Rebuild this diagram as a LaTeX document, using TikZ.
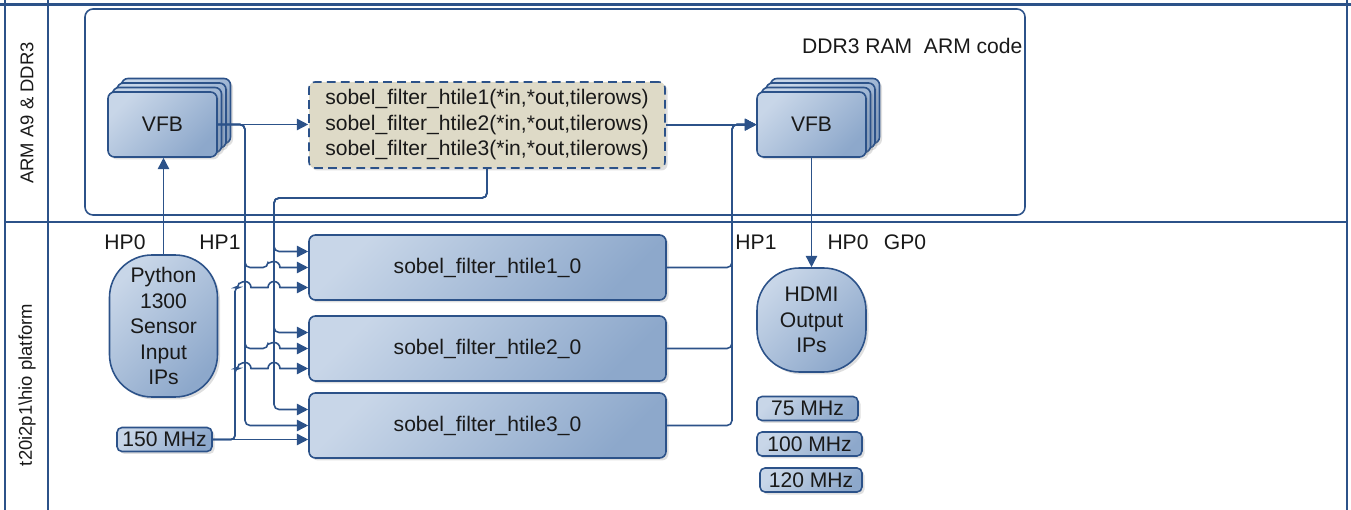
\documentclass[tikz,border=0pt]{standalone}
\usepackage{fontspec}
\setmainfont{Liberation Sans}
\usepackage{xcolor}
\usepackage{tikz}
\definecolor{laneblue}{RGB}{44, 82, 137}
\definecolor{boxlight}{RGB}{200, 214, 232}
\definecolor{boxdark}{RGB}{141, 168, 203}
\definecolor{codebeige}{RGB}{222, 218, 199}
\definecolor{textdark}{RGB}{25, 25, 25}
\usetikzlibrary{arrows.meta, positioning, shadows}

\begin{document}
\begin{tikzpicture}[
        every node/.style={font=\fontsize{12}{14.5}\selectfont, text=textdark},
        block/.style={rectangle, rounded corners=0.13cm, draw=laneblue, line width=0.9pt, top color=boxlight, bottom color=boxdark, shading angle=45, drop shadow={opacity=0.25, shadow xshift=0.05cm, shadow yshift=-0.05cm}, align=center},
        vfb/.style={block, minimum width=2.18cm, minimum height=1.3cm},
        tile/.style={block, minimum width=7.14cm, minimum height=1.3cm},
        ipblock/.style={block, rounded corners=0.85cm, minimum width=2.16cm, inner sep=1pt},
        clk/.style={block, rounded corners=0.1cm, minimum height=0.48cm, inner sep=0pt},
        funcs/.style={rectangle, rounded corners=0.12cm, draw=laneblue, line width=0.9pt, dash pattern=on 5pt off 3pt, fill=codebeige, drop shadow={opacity=0.25, shadow xshift=0.05cm, shadow yshift=-0.05cm}, align=left, minimum width=7.12cm, minimum height=1.72cm},
        region/.style={rectangle, rounded corners=0.16cm, draw=laneblue, line width=0.9pt},
        port/.style={inner sep=0pt},
        lanelabel/.style={inner sep=0pt, rotate=90, font=\fontsize{10.5}{12}\selectfont},
        conn/.style={draw=laneblue, line width=0.9pt, -{Triangle[length=6.5pt,width=6.5pt]}},
        lane/.style={draw=laneblue, line width=1.2pt},
    ]
        \useasboundingbox (0,0) rectangle (27.02,-10.2);

        % Swimlanes
        \draw[lane] (0.1,0) -- (0.1,-10.2);
        \draw[lane] (0.96,0) -- (0.96,-10.2);
        \draw[lane] (26.94,0) -- (26.94,-10.2);
        \draw[lane] (0,-0.09) -- (27.02,-0.09);
        \draw[lane] (0.1,-4.44) -- (26.94,-4.44);
        \node[lanelabel] (armlane) at (0.54,-2.26) {ARM A9 \& DDR3};
        \node[lanelabel] (hiolane) at (0.54,-7.7) {t20i2p1\textbackslash hio platform};

        % ARM side
        \node[region, minimum width=18.8cm, minimum height=4.12cm] (ddr) at (11.1,-2.24) {};
        \node[port, anchor=east] (ddrlabel) at ([xshift=-0.06cm, yshift=-0.76cm]ddr.north east) {DDR3 RAM\ \ ARM code};

        \foreach \k in {3,2,1}
            \node[vfb, xshift=\k*0.09cm, yshift=\k*0.09cm] at (3.25,-2.49) {};
        \node[vfb] (vfbin) at (3.25,-2.49) {VFB};

        \node[funcs] (filters) at (9.74,-2.5) {sobel\_filter\_htile1(*in,*out,tilerows)\\sobel\_filter\_htile2(*in,*out,tilerows)\\sobel\_filter\_htile3(*in,*out,tilerows)};

        \foreach \k in {3,2,1}
            \node[vfb, xshift=\k*0.09cm, yshift=\k*0.09cm] at (16.23,-2.49) {};
        \node[vfb] (vfbout) at (16.23,-2.49) {VFB};

        % Platform side
        \node[ipblock, minimum height=2.84cm] (python) at (3.27,-6.52) {Python\\1300\\Sensor\\Input\\IPs};
        \node[ipblock, minimum width=2.18cm, minimum height=2.08cm] (hdmi) at (16.23,-6.4) {HDMI\\Output\\IPs};

        \node[tile] (tile1) at (9.75,-5.35) {sobel\_filter\_htile1\_0};
        \node[tile] (tile2) at (9.75,-6.97) {sobel\_filter\_htile2\_0};
        \node[tile] (tile3) at (9.75,-8.51) {sobel\_filter\_htile3\_0};

        \node[clk, minimum width=1.9cm] (clk150) at (3.29,-8.79) {150 MHz};
        \node[clk, minimum width=2.02cm] (clk75) at (16.15,-8.17) {75 MHz};
        \node[clk, minimum width=2.1cm] (clk100) at (16.19,-8.88) {100 MHz};
        \node[clk, minimum width=2.04cm] (clk120) at (16.22,-9.6) {120 MHz};

        \node[port] (hp0in) at (2.5,-4.84) {HP0};
        \node[port] (hp1in) at (4.4,-4.84) {HP1};
        \node[port] (hp1out) at (15.12,-4.84) {HP1};
        \node[port] (hp0out) at (16.96,-4.84) {HP0};
        \node[port] (gp0) at (18.1,-4.84) {GP0};

        % Buses
        \coordinate (clkbus) at (4.7,0);
        \coordinate (vhop) at (4.78,0);
        \coordinate (vbus) at (4.9,0);
        \coordinate (chop) at (5.36,0);
        \coordinate (cbus) at (5.48,0);
        \coordinate (obus) at (14.64,0);
        \coordinate (cturn) at (0,-3.96);
        \foreach \t in {1,2,3} {
            \coordinate (ctlin\t) at ([yshift=0.32cm]tile\t.west);
            \coordinate (clkin\t) at ([yshift=-0.4cm]tile\t.west);
        }

        % Connections
        \draw[conn] (python.north) -- (python.north |- vfbin.south);
        \draw[conn] (vfbin.east) -- (vfbin.east -| filters.west);
        \draw[conn] (filters.east) -- (filters.east -| vfbout.west);
        \draw[conn] (vfbout.south) -- (vfbout.south |- hdmi.north);

        \foreach \t in {1,2,3}
            \draw[conn, rounded corners=0.1cm] (filters.south) |- (cbus |- cturn) |- (ctlin\t);

        \draw[conn, rounded corners=0.1cm] (vfbin.east) -| (vbus |- tile1.west) -- (chop |- tile1.west) [sharp corners] arc (180:0:0.12cm) -- (tile1.west);
        \draw[conn, rounded corners=0.1cm] (vfbin.east) -| (vbus |- tile2.west) -- (chop |- tile2.west) [sharp corners] arc (180:0:0.12cm) -- (tile2.west);
        \draw[conn, rounded corners=0.1cm] (vfbin.east) -| (vbus |- tile3.west) -- (tile3.west);

        \draw[conn, rounded corners=0.08cm] (clk150.east) -| (clkbus |- clkin1) -- (vhop |- clkin1) [sharp corners] arc (180:0:0.12cm) -- (chop |- clkin1) arc (180:0:0.12cm) -- (clkin1);
        \draw[conn, rounded corners=0.08cm] (clk150.east) -| (clkbus |- clkin2) -- (vhop |- clkin2) [sharp corners] arc (180:0:0.12cm) -- (chop |- clkin2) arc (180:0:0.12cm) -- (clkin2);
        \draw[conn] (clk150.east) -- (clk150.east -| tile3.west);

        \foreach \t in {1,2,3}
            \draw[conn, rounded corners=0.1cm] (tile\t.east) -| (obus |- vfbout.west) -- (vfbout.west);

\end{tikzpicture}
\end{document}
